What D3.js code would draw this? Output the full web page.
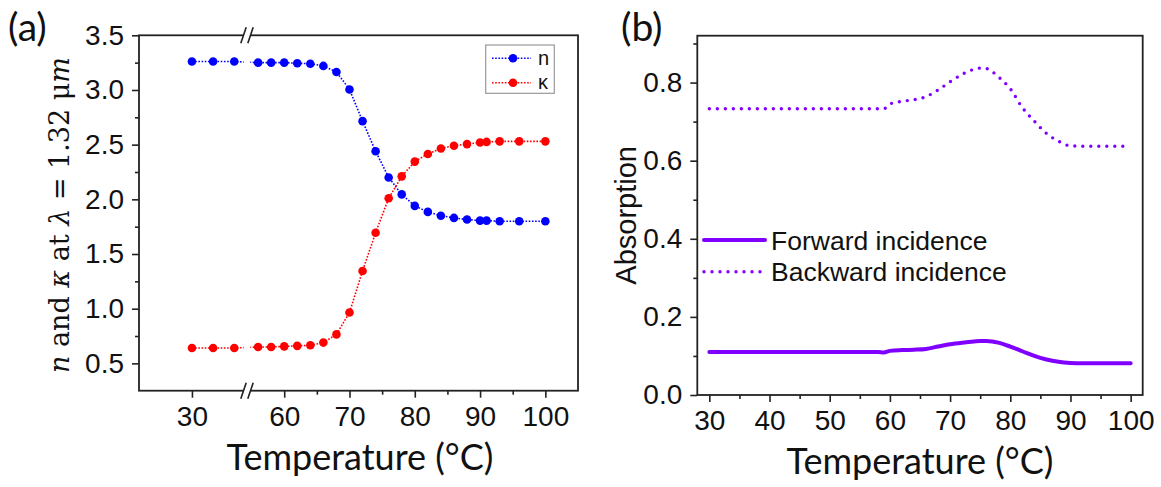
<!DOCTYPE html>
<html>
<head>
<meta charset="utf-8">
<script src="https://cdn.jsdelivr.net/npm/d3@7"></script>
<style>
  html, body { margin: 0; padding: 0; background: #fff; }
  svg { display: block; }
  .tick text { font-family: "Liberation Sans", Arial, sans-serif; font-size: 28px; fill: #111; }
  .tick line { stroke: #222; stroke-width: 1.6; }
  .domain { display: none; }
</style>
</head>
<body>
<svg id="fig" width="1161" height="487"></svg>
<script>
// ---- panel (a): refractive index n and extinction coefficient κ ----
const tempA = [30, 34, 38, 56, 58, 60, 62, 64, 66, 68, 70, 72, 74, 76, 78, 80, 82, 84, 86, 88, 90, 91, 93, 96, 100];
const nVals = [3.26, 3.26, 3.26, 3.25, 3.25, 3.25, 3.245, 3.24, 3.22, 3.165, 3.005, 2.715, 2.44, 2.2, 2.045,
               1.94, 1.885, 1.85, 1.83, 1.815, 1.805, 1.805, 1.8, 1.8, 1.8];
const kVals = [0.64, 0.64, 0.64, 0.65, 0.65, 0.655, 0.66, 0.665, 0.69, 0.765, 0.965, 1.345, 1.695, 2.01, 2.21,
               2.345, 2.415, 2.465, 2.49, 2.505, 2.52, 2.525, 2.53, 2.53, 2.53];
const xTicksA = [30, 60, 70, 80, 90, 100];
const xMinorA = [65, 75, 85, 95];
const yTicksA = [0.5, 1.0, 1.5, 2.0, 2.5, 3.0, 3.5];
const yMinorA = [0.75, 1.25, 1.75, 2.25, 2.75, 3.25];

// ---- panel (b): absorption for both incidence directions ----
const tempB = [30, 40, 50, 58, 59, 60, 62, 64, 66, 68, 70, 72, 74, 75, 76, 77, 78, 80, 82, 84, 86, 88, 90, 92, 95, 100];
const forwardAbs = [0.11, 0.11, 0.11, 0.11, 0.109, 0.113, 0.115, 0.116, 0.118, 0.124, 0.13, 0.134, 0.137, 0.138,
                    0.138, 0.137, 0.134, 0.124, 0.112, 0.1, 0.091, 0.085, 0.082, 0.081, 0.081, 0.081];
const backwardAbs = [0.733, 0.733, 0.733, 0.733, 0.733, 0.745, 0.752, 0.756, 0.764, 0.781, 0.802, 0.821, 0.834, 0.837,
                     0.836, 0.828, 0.815, 0.784, 0.736, 0.701, 0.67, 0.65, 0.638, 0.637, 0.637, 0.637];
const xTicksB = [30, 40, 50, 60, 70, 80, 90, 100];
const xMinorB = [35, 45, 55, 65, 75, 85, 95];
const yTicksB = [0.0, 0.2, 0.4, 0.6, 0.8];
const yMinorB = [0.1, 0.3, 0.5, 0.7, 0.9];

const svg = d3.select("#fig");
const axisColor = "#222";
const fmt1 = d3.format(".1f");

// broken temperature axis: two linear pieces meeting at the break
const breakLo = 40.4, breakHi = 54.3;
const xA = d3.scaleLinear().domain([20, breakLo, breakHi, 105]).range([139, 247, 247, 578]);
const yA = d3.scaleLinear().domain([0.25, 3.5]).range([390.7, 35.3]);

const xB = d3.scaleLinear().domain([28, 102]).range([697.3, 1142.7]);
const yB = d3.scaleLinear().domain([0, 0.92]).range([395, 35.7]);

function drawAxes(g, x, y, xt, xm, yt, ym, yFmt) {
  const [x0, x1] = [x.range()[0], x.range()[x.range().length - 1]];
  const [y0, y1] = y.range();
  g.append("g").attr("transform", `translate(0,${y0})`)
    .call(d3.axisBottom(x).tickValues(xt).tickSize(7).tickPadding(8).tickFormat(d3.format("d")));
  g.append("g").attr("transform", `translate(0,${y0})`)
    .call(d3.axisBottom(x).tickValues(xm).tickSize(4).tickFormat(""));
  g.append("g").attr("transform", `translate(${x0},0)`)
    .call(d3.axisLeft(y).tickValues(yt).tickSize(7).tickPadding(8).tickFormat(yFmt));
  g.append("g").attr("transform", `translate(${x0},0)`)
    .call(d3.axisLeft(y).tickValues(ym).tickSize(4).tickFormat(""));
  g.append("rect").attr("x", x0).attr("y", y1).attr("width", x1 - x0).attr("height", y0 - y1)
    .attr("fill", "none").attr("stroke", axisColor).attr("stroke-width", 1.8);
}

// ---------- panel (a) ----------
const gA = svg.append("g");
drawAxes(gA, xA, yA, xTicksA, xMinorA, yTicksA, yMinorA, fmt1);

const lineA = (vals) => d3.line().x((d, i) => xA(tempA[i])).y(d => yA(d))(vals);
const seriesA = [
  { vals: nVals, color: "#0000ff" },
  { vals: kVals, color: "#ff0000" }
];
seriesA.forEach(s => {
  gA.append("path").attr("d", lineA(s.vals)).attr("fill", "none")
    .attr("stroke", s.color).attr("stroke-width", 1.6).attr("stroke-dasharray", "1.6 1.6");
  gA.selectAll(null).data(s.vals).enter().append("circle")
    .attr("cx", (d, i) => xA(tempA[i])).attr("cy", d => yA(d)).attr("r", 4.3).attr("fill", s.color);
});

// axis break: white gap with double slashes on top and bottom edges
const bx = xA(breakLo);
gA.append("rect").attr("x", bx - 3.3).attr("y", yA.range()[1] - 3).attr("width", 6.6)
  .attr("height", yA.range()[0] - yA.range()[1] + 6).attr("fill", "#fff");
[yA.range()[0], yA.range()[1]].forEach(yy => {
  [-3.5, 3.5].forEach(off => {
    gA.append("line").attr("x1", bx + off - 2.7).attr("y1", yy + 8)
      .attr("x2", bx + off + 2.7).attr("y2", yy - 8)
      .attr("stroke", axisColor).attr("stroke-width", 1.6);
  });
});

// legend (a)
const legA = gA.append("g");
legA.append("rect").attr("x", 485.7).attr("y", 45).attr("width", 68.6).attr("height", 48.3)
  .attr("fill", "#fff").attr("stroke", "#999").attr("stroke-width", 1.2);
[{ label: "n", color: "#0000ff", y: 58.3 }, { label: "κ", color: "#ff0000", y: 82.7 }].forEach(r => {
  legA.append("line").attr("x1", 492).attr("x2", 531).attr("y1", r.y).attr("y2", r.y)
    .attr("stroke", r.color).attr("stroke-width", 1.6).attr("stroke-dasharray", "1.6 1.6");
  legA.append("circle").attr("cx", 513).attr("cy", r.y).attr("r", 4.3).attr("fill", r.color);
  legA.append("text").attr("x", 538).attr("y", r.y).attr("dy", "0.33em")
    .attr("font-family", "Liberation Sans, Arial, sans-serif").attr("font-size", 20).attr("fill", "#111")
    .text(r.label);
});

// y title (a) with math-italic symbols
const ytA = gA.append("text").attr("transform", `translate(69,${(yA.range()[0] + yA.range()[1]) / 2 + 2}) rotate(-90)`)
  .attr("text-anchor", "middle").attr("font-family", "DejaVu Serif, serif").attr("font-size", 27).attr("fill", "#111");
[["n", true], [" and ", false], ["κ", true], [" at ", false], ["λ", true], [" = 1.32 μ", false], ["m", true]]
  .forEach(([t, it]) => ytA.append("tspan").attr("font-style", it ? "italic" : "normal").text(t));

gA.append("text").attr("x", 360).attr("y", 470).attr("text-anchor", "middle")
  .attr("font-family", "Lato, sans-serif").attr("font-size", 36).attr("fill", "#111").text("Temperature (°C)");
gA.append("text").attr("x", 8).attr("y", 41).attr("font-family", "Lato, sans-serif")
  .attr("font-size", 39).attr("fill", "#111").text("(a)");

// ---------- panel (b) ----------
const gB = svg.append("g");
drawAxes(gB, xB, yB, xTicksB, xMinorB, yTicksB, yMinorB, fmt1);
const purple = "#8000ff";
const lineB = (vals) => d3.line().curve(d3.curveMonotoneX).x((d, i) => xB(tempB[i])).y(d => yB(d))(vals);

gB.append("path").attr("d", lineB(forwardAbs)).attr("fill", "none").attr("stroke", purple)
  .attr("stroke-width", 4).attr("stroke-linecap", "round");
gB.append("path").attr("d", lineB(backwardAbs)).attr("fill", "none").attr("stroke", purple)
  .attr("stroke-width", 3.4).attr("stroke-linecap", "round").attr("stroke-dasharray", "0 8");

// legend (b)
const legB = gB.append("g").attr("font-family", "Liberation Sans, Arial, sans-serif").attr("font-size", 26.5).attr("fill", "#111");
legB.append("line").attr("x1", 704).attr("x2", 765).attr("y1", 240).attr("y2", 240)
  .attr("stroke", purple).attr("stroke-width", 4).attr("stroke-linecap", "round");
legB.append("text").attr("x", 771).attr("y", 240).attr("dy", "0.36em").text("Forward incidence");
legB.append("line").attr("x1", 704).attr("x2", 765).attr("y1", 271.7).attr("y2", 271.7)
  .attr("stroke", purple).attr("stroke-width", 3.4).attr("stroke-linecap", "round").attr("stroke-dasharray", "0 8");
legB.append("text").attr("x", 771).attr("y", 271.7).attr("dy", "0.36em").text("Backward incidence");

gB.append("text").attr("transform", `translate(636,${(yB.range()[0] + yB.range()[1]) / 2}) rotate(-90)`)
  .attr("text-anchor", "middle").attr("font-family", "Liberation Sans, Arial, sans-serif")
  .attr("font-size", 29).attr("fill", "#111").text("Absorption");
gB.append("text").attr("x", 920).attr("y", 474).attr("text-anchor", "middle")
  .attr("font-family", "Lato, sans-serif").attr("font-size", 36).attr("fill", "#111").text("Temperature (°C)");
gB.append("text").attr("x", 621).attr("y", 41).attr("font-family", "Lato, sans-serif")
  .attr("font-size", 39).attr("fill", "#111").text("(b)");
</script>
</body>
</html>
